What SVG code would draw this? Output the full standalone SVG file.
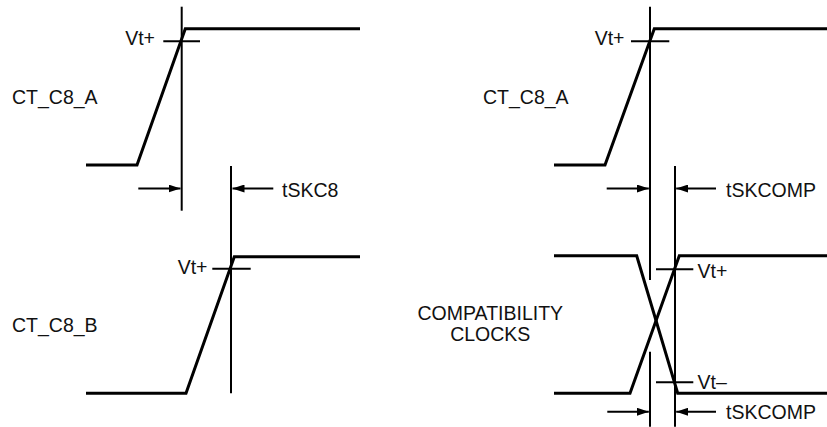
<svg xmlns="http://www.w3.org/2000/svg" width="827" height="427" viewBox="0 0 827 427">
<style>
  .wave { fill: none; stroke: #000; stroke-width: 3; stroke-linejoin: miter; }
  .thin { fill: none; stroke: #000; stroke-width: 2; }
  .lbl { font-family: "Liberation Sans", Arial, sans-serif; font-size: 19.5px; fill: #111; }
  .end { text-anchor: end; }
  .mid { text-anchor: middle; }
</style>
<defs>
  <marker id="ah" markerUnits="userSpaceOnUse" markerWidth="12" markerHeight="8" refX="12" refY="4" orient="auto">
    <path d="M0,0 L12,4 L0,8 z" fill="#000"/>
  </marker>
</defs>
<rect width="827" height="427" fill="#fff"/>

<g id="sig-a-left">
  <polyline class="wave" points="86,165 137,165 185.3,28.7 360,28.7"/>
  <line class="thin" x1="181.7" y1="6.7" x2="181.7" y2="210.7"/>
  <line class="thin" x1="163.3" y1="41.3" x2="200" y2="41.3"/>
  <text class="lbl end" x="155" y="45">Vt+</text>
  <text class="lbl" x="12" y="104">CT_C8_A</text>
</g>

<g id="sig-b-left">
  <polyline class="wave" points="86,393.3 186,393.3 234.3,256.7 360,256.7"/>
  <line class="thin" x1="231" y1="166" x2="231" y2="393.3"/>
  <line class="thin" x1="212.3" y1="268.7" x2="250.7" y2="268.7"/>
  <text class="lbl end" x="207.5" y="273.5">Vt+</text>
  <text class="lbl" x="12" y="332">CT_C8_B</text>
</g>

<g id="sig-a-right">
  <polyline class="wave" points="554,165 605,165 654.3,28.7 827,28.7"/>
  <line class="thin" x1="650" y1="6.7" x2="650" y2="280"/>
  <line class="thin" x1="650" y1="351.7" x2="650" y2="426.7"/>
  <line class="thin" x1="631" y1="41.3" x2="669.3" y2="41.3"/>
  <text class="lbl end" x="624.5" y="45">Vt+</text>
  <text class="lbl" x="483" y="104">CT_C8_A</text>
</g>

<g id="sig-compat">
  <polyline class="wave" points="554,255.7 636.7,255.7 677.7,393.3 827,393.3"/>
  <polyline class="wave" points="554,393.3 630,393.3 679.3,255.7 827,255.7"/>
  <line class="thin" x1="675" y1="166" x2="675" y2="426.7"/>
  <line class="thin" x1="656" y1="269.3" x2="693.3" y2="269.3"/>
  <line class="thin" x1="656" y1="382.3" x2="693.3" y2="382.3"/>
  <text class="lbl" x="697.5" y="277.5">Vt+</text>
  <text class="lbl" x="697.5" y="388.5">Vt–</text>
  <text class="lbl mid" x="490.3" y="319.5">COMPATIBILITY</text>
  <text class="lbl mid" x="490.3" y="341">CLOCKS</text>
</g>

<g id="connectors">
  <line class="thin" x1="138.3" y1="188.5" x2="180.5" y2="188.5" marker-end="url(#ah)"/>
  <line class="thin" x1="273.3" y1="188.5" x2="232.5" y2="188.5" marker-end="url(#ah)"/>
  <text class="lbl" x="282" y="196.5">tSKC8</text>

  <line class="thin" x1="606.7" y1="188.5" x2="648.8" y2="188.5" marker-end="url(#ah)"/>
  <line class="thin" x1="716" y1="188.5" x2="676.2" y2="188.5" marker-end="url(#ah)"/>
  <text class="lbl" x="726" y="196.5">tSKCOMP</text>

  <line class="thin" x1="607.3" y1="411.7" x2="648.8" y2="411.7" marker-end="url(#ah)"/>
  <line class="thin" x1="716" y1="411.7" x2="676.2" y2="411.7" marker-end="url(#ah)"/>
  <text class="lbl" x="726" y="419.3">tSKCOMP</text>
</g>
</svg>
